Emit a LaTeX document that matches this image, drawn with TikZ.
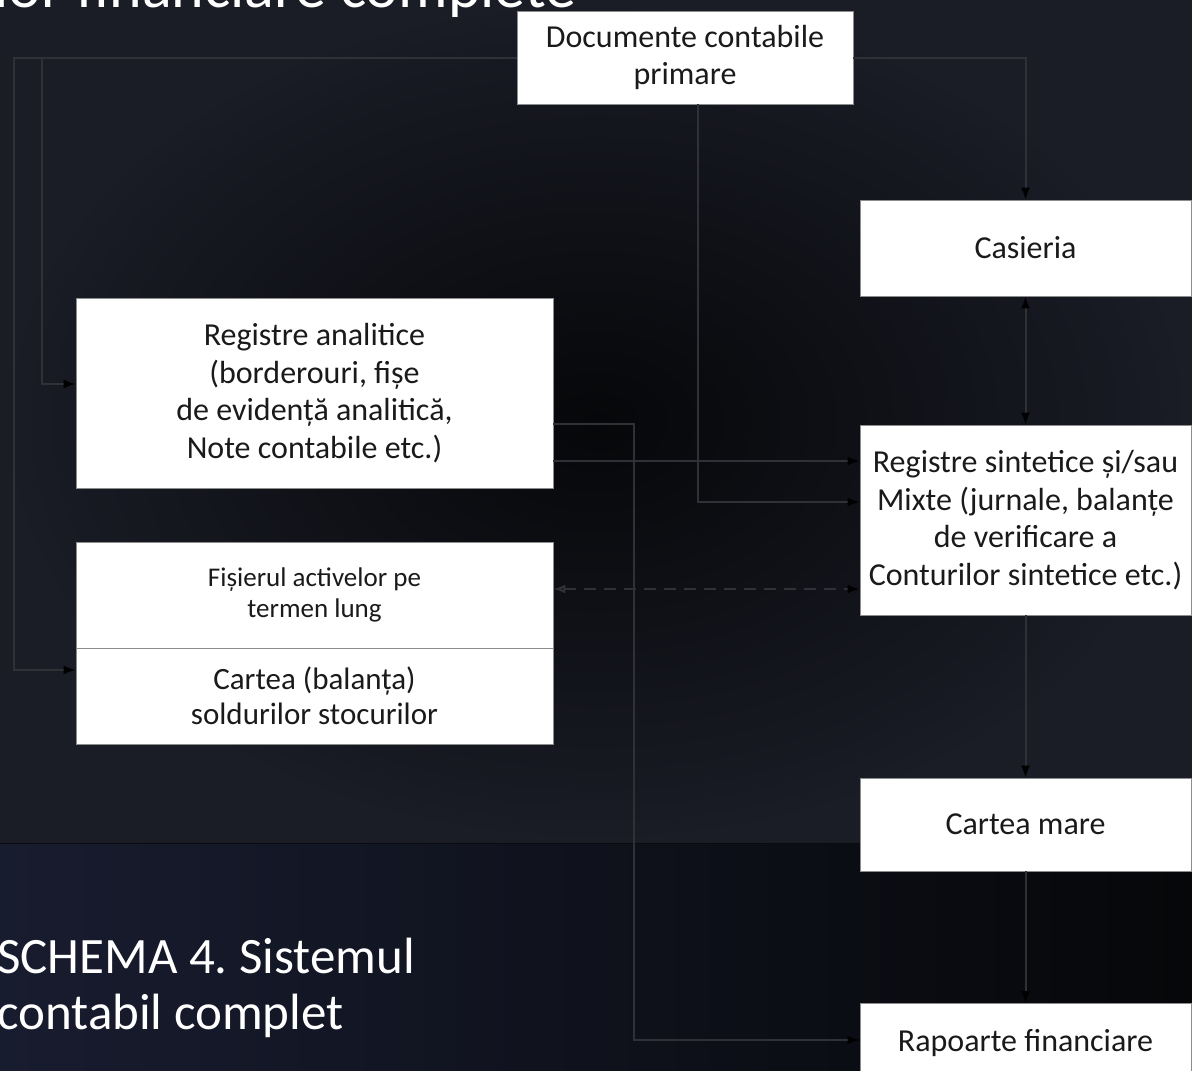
\documentclass[tikz,border=0pt]{standalone}
\usepackage{fontspec}
\setmainfont{Carlito}
\usetikzlibrary{arrows.meta}

\definecolor{bgcore}{HTML}{060709}
\definecolor{bgedge}{HTML}{1A1C26}
\definecolor{bgblue}{HTML}{181C2F}
\definecolor{bgline}{HTML}{0A0A0D}
\definecolor{boxedge}{HTML}{8C8C8C}
\definecolor{boxtext}{HTML}{1A1A1A}
\definecolor{linkgray}{HTML}{303136}

\begin{document}
\begin{tikzpicture}[x=1pt,y=-1pt,
    box/.style={draw=boxedge, line width=0.8pt, fill=white, text=boxtext, align=center,
      inner sep=0pt, font=\fontsize{32}{37.5}\selectfont},
    slidetext/.style={text=white, inner sep=0pt, anchor=base west},
    link/.style={draw=linkgray, line width=2pt, -{Latex[length=12pt,width=9pt,color=black]}},
    twoway/.style={link, {Latex[length=12pt,width=9pt,color=black]}-{Latex[length=12pt,width=9pt,color=black]}},
    dashlink/.style={link, dash pattern=on 12pt off 8pt,
      {Latex[length=12pt,width=9pt,open,color=linkgray]}-{Latex[length=12pt,width=9pt,color=black]}}]

  % slide background
  \useasboundingbox (0,0) rectangle (1192,1071);
  \shade[inner color=bgcore, outer color=bgedge] (0,0) rectangle (1192,843);
  \shade[left color=bgblue, right color=bgcore] (0,843) rectangle (1192,1071);
  \draw[bgline, line width=1pt] (0,843) -- (1192,843);

  % slide texts
  \node[slidetext, font=\fontsize{62}{70}\selectfont] (heading) at (-6,7) {lor financiare complete};
  \node[slidetext, font=\fontsize{51}{56}\selectfont] (captiona) at (-3,973) {SCHEMA 4.\ Sistemul};
  \node[slidetext, font=\fontsize{51}{56}\selectfont] (captionb) at (-3,1029) {contabil complet};

  % boxes
  \node[box, minimum width=336pt, minimum height=93pt] (docs) at (685,57.5) {Documente contabile\\primare};
  \node[box, minimum width=331pt, minimum height=96pt] (cash) at (1025.5,248) {Casieria};
  \node[box, minimum width=477pt, minimum height=190pt] (analytic) at (314.5,393)
    {Registre analitice\\(borderouri, fișe\\de evidență analitică,\\Note contabile etc.)};
  \node[box, minimum width=331pt, minimum height=190pt] (synthetic) at (1025.5,520)
    {Registre sintetice și/sau\\Mixte (jurnale, balanțe\\de verificare a\\Conturilor sintetice etc.)};
  \node[box, minimum width=477pt, minimum height=106pt, font=\fontsize{27}{31}\selectfont] (assets) at (314.5,595)
    {Fișierul activelor pe\\termen lung};
  \node[box, minimum width=477pt, minimum height=96pt, font=\fontsize{31}{35}\selectfont] (stocks) at (314.5,696)
    {Cartea (balanța)\\soldurilor stocurilor};
  \node[box, minimum width=331pt, minimum height=93pt] (ledger) at (1025.5,824.5) {Cartea mare};
  \node[box, minimum width=331pt, minimum height=80pt, anchor=north] (reports) at (1025.5,1003) {Rapoarte financiare};

  % bends of the connectors
  \coordinate (westa) at (42,384);
  \coordinate (westb) at (14,670);
  \coordinate (downa) at (634,1040);
  \coordinate (downb) at (698,502);

  % connectors
  \draw[link] (docs.west) -| (westa) -- (westa -| analytic.west);
  \draw[link] (docs.west) -| (westb) -- (westb -| stocks.west);
  \draw[link] (docs.east) -| (cash.north);
  \draw[twoway] (cash.south) -- (synthetic.north);
  \draw[link] (docs.south -| downb) -- (downb) -- (downb -| synthetic.west);
  \draw[link] (analytic.east |- 0,461) -- (synthetic.west |- 0,461);
  \draw[link] (analytic.east |- 0,424) -| (downa) -- (downa -| reports.west);
  \draw[dashlink] (assets.east |- 0,589) -- (synthetic.west |- 0,589);
  \draw[link] (synthetic.south) -- (ledger.north);
  \draw[link] (ledger.south) -- (reports.north);
\end{tikzpicture}
\end{document}
